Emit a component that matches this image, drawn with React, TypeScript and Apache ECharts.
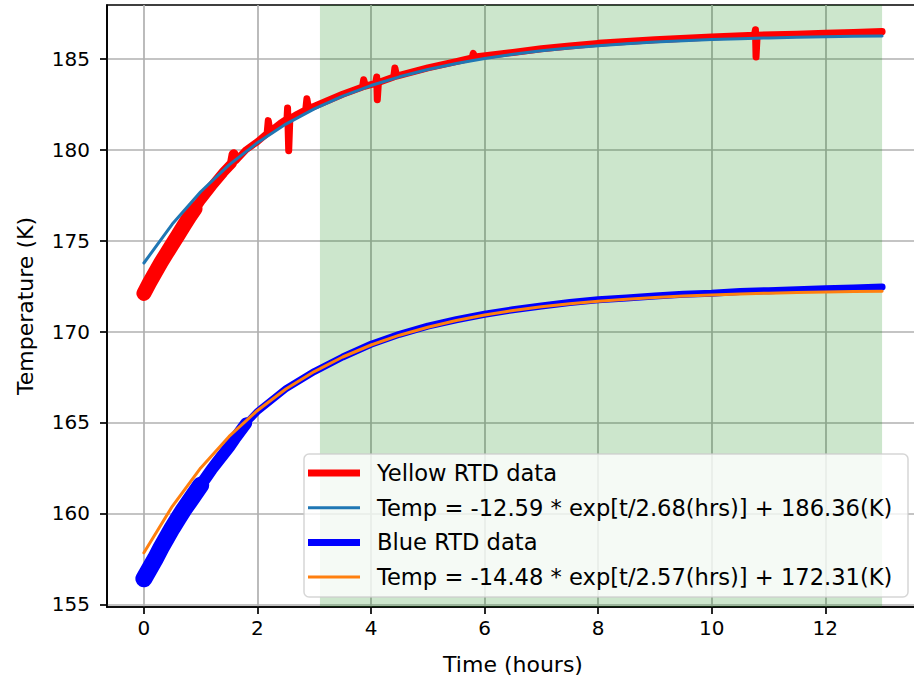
import React, { useEffect, useRef } from "react";
import * as echarts from "echarts";

// ---------- data ----------
const xTicks = [0, 2, 4, 6, 8, 10, 12];
const yTicks = [155, 160, 165, 170, 175, 180, 185];
const shadeSpan = [3.1, 13.0];

const yellowT = [0, 0.1, 0.2, 0.3, 0.4, 0.5, 0.6, 0.7, 0.8, 0.9, 1.0, 1.2, 1.4, 1.55, 1.58, 1.62, 1.8, 2.0, 2.17, 2.19, 2.22, 2.4, 2.52, 2.53, 2.55, 2.57, 2.7, 2.85, 2.87, 2.9, 3.2, 3.5, 3.85, 3.87, 3.9, 4.08, 4.1, 4.11, 4.13, 4.4, 4.42, 4.45, 5.0, 5.5, 5.78, 5.8, 5.83, 6.5, 7.0, 7.5, 8.0, 9.0, 10.0, 10.75, 10.77, 10.78, 10.8, 11.5, 12.0, 12.5, 13.0];
const yellowK = [172.1, 172.7, 173.25, 173.8, 174.3, 174.8, 175.3, 175.8, 176.3, 176.75, 177.2, 178.0, 178.75, 179.25, 179.75, 179.4, 180.0, 180.45, 180.9, 181.6, 181.0, 181.45, 181.7, 182.3, 179.95, 181.7, 181.95, 182.2, 182.8, 182.25, 182.65, 183.05, 183.45, 183.85, 183.5, 183.65, 184.0, 182.75, 183.7, 184.0, 184.5, 184.05, 184.5, 184.85, 185.05, 185.3, 185.1, 185.35, 185.55, 185.7, 185.85, 186.05, 186.2, 186.3, 186.6, 185.1, 186.3, 186.35, 186.4, 186.45, 186.5];

const blueT = [0, 0.1, 0.2, 0.3, 0.4, 0.5, 0.6, 0.7, 0.8, 0.9, 1.0, 1.1, 1.2, 1.3, 1.4, 1.5, 1.6, 1.8, 2.0, 2.5, 3, 3.5, 4, 4.5, 5, 5.5, 6, 6.5, 7, 7.5, 8, 8.5, 9, 9.5, 10, 10.5, 11, 11.5, 12, 12.5, 13];
const blueK = [156.4, 156.95, 157.5, 158.1, 158.65, 159.2, 159.7, 160.2, 160.65, 161.1, 161.55, 162.0, 162.45, 162.85, 163.25, 163.65, 164.1, 164.95, 165.6, 166.85, 167.8, 168.6, 169.3, 169.85, 170.3, 170.65, 170.95, 171.2, 171.4, 171.6, 171.75, 171.85, 171.95, 172.05, 172.1, 172.2, 172.25, 172.3, 172.35, 172.4, 172.45];

const fitT = [0, 0.5, 1, 1.5, 2, 2.5, 3, 3.5, 4, 4.5, 5, 5.5, 6, 6.5, 7, 7.5, 8, 8.5, 9, 9.5, 10, 10.5, 11, 11.5, 12, 12.5, 13];
const yellowFitK = [173.77, 175.91, 177.69, 179.17, 180.39, 181.41, 182.25, 182.95, 183.53, 184.01, 184.41, 184.74, 185.02, 185.25, 185.44, 185.59, 185.72, 185.83, 185.92, 186.0, 186.06, 186.11, 186.15, 186.19, 186.22, 186.24, 186.26];
const blueFitK = [157.83, 160.39, 162.5, 164.23, 165.66, 166.84, 167.8, 168.6, 169.26, 169.8, 170.24, 170.61, 170.91, 171.16, 171.36, 171.53, 171.67, 171.78, 171.87, 171.95, 172.01, 172.07, 172.11, 172.15, 172.17, 172.2, 172.22];

const legendLabels = [
  "Yellow RTD data",
  "Temp = -12.59 * exp[t/2.68(hrs)] + 186.36(K)",
  "Blue RTD data",
  "Temp = -14.48 * exp[t/2.57(hrs)] + 172.31(K)",
];

const xName = "Time (hours)";
const yName = "Temperature (K)";

// ---------- chart ----------
const FONT = "DejaVu Sans";
const pairs = (t: number[], v: number[]) => t.map((x, i) => [x, v[i]]);

export default function App() {
  const ref = useRef<HTMLDivElement>(null);

  useEffect(() => {
    document.body.style.margin = "0";
    if (!ref.current) return;
    const chart = echarts.init(ref.current, null, { renderer: "svg" });

    const yellow = pairs(yellowT, yellowK);
    const blue = pairs(blueT, blueK);
    const colors = ["#ff0000", "#1f77b4", "#0000ff", "#ff7f0e"];
    const widths = [7, 3, 7, 3];

    const lineSeries = (name: string | undefined, data: number[][], color: string, width: number, extra: any = {}) => ({
      type: "line",
      name,
      data,
      showSymbol: false,
      symbol: "none",
      silent: true,
      lineStyle: { color, width, cap: "round", join: "round" },
      ...extra,
    });

    const legendTop = 473;
    const legendStep = 34.7;

    chart.setOption({
      animation: false,
      grid: {
        left: 107,
        top: 5,
        right: 5,
        bottom: 72,
        show: true,
        borderColor: "#000",
        borderWidth: 1.7,
        backgroundColor: "transparent",
      },
      xAxis: {
        type: "value",
        min: -0.65,
        max: 13.65,
        splitNumber: 7,
        name: xName,
        nameLocation: "middle",
        nameGap: 46,
        nameTextStyle: { fontSize: 22, color: "#000", fontFamily: FONT },
        axisLine: { show: true, onZero: false, lineStyle: { color: "#000", width: 1.7 } },
        axisTick: { show: true, length: 7, lineStyle: { color: "#000", width: 1.7 }, customValues: xTicks },
        axisLabel: {
          fontSize: 20,
          color: "#000",
          fontFamily: FONT,
          margin: 11,
          customValues: xTicks,
          formatter: (v: number) => (xTicks.includes(v) ? String(v) : ""),
        },
        splitLine: { show: true, lineStyle: { color: "#b0b0b0", width: 1.7 } },
      },
      yAxis: {
        type: "value",
        min: 154.85,
        max: 187.96,
        splitNumber: 6,
        name: yName,
        nameLocation: "middle",
        nameRotate: 90,
        nameGap: 71,
        nameTextStyle: { fontSize: 22, color: "#000", fontFamily: FONT },
        axisLine: { show: true, onZero: false, lineStyle: { color: "#000", width: 1.7 } },
        axisTick: { show: true, length: 7, lineStyle: { color: "#000", width: 1.7 }, customValues: yTicks },
        axisLabel: {
          fontSize: 20,
          color: "#000",
          fontFamily: FONT,
          margin: 17,
          customValues: yTicks,
          formatter: (v: number) => (yTicks.includes(v) ? String(v) : ""),
        },
        splitLine: { show: true, lineStyle: { color: "#b0b0b0", width: 1.7 } },
      },
      series: [
        lineSeries(undefined, yellow.filter((p) => p[0] <= 0.9), colors[0], 15, {
          markArea: {
            silent: true,
            itemStyle: { color: "rgba(0,128,0,0.2)" },
            data: [[{ xAxis: shadeSpan[0] }, { xAxis: shadeSpan[1] }]],
          },
        }),
        lineSeries(undefined, yellow.filter((p) => p[0] <= 1.6), colors[0], 10),
        lineSeries(legendLabels[0], yellow, colors[0], widths[0]),
        lineSeries(legendLabels[1], pairs(fitT, yellowFitK), colors[1], widths[1]),
        lineSeries(undefined, blue.filter((p) => p[0] <= 1.0), colors[2], 17),
        lineSeries(undefined, blue.filter((p) => p[0] <= 1.8), colors[2], 12),
        lineSeries(legendLabels[2], blue, colors[2], widths[2]),
        lineSeries(legendLabels[3], pairs(fitT, blueFitK), colors[3], widths[3]),
      ],
      graphic: [
        {
          type: "rect",
          z: 100,
          silent: true,
          shape: { x: 304, y: 454, width: 604, height: 143, r: 5 },
          style: { fill: "rgba(255,255,255,0.8)", stroke: "rgba(204,204,204,0.8)", lineWidth: 1.5 },
        },
        ...legendLabels.map((_, i) => ({
          type: "line",
          z: 101,
          silent: true,
          shape: { x1: 308, y1: legendTop + i * legendStep, x2: 360, y2: legendTop + i * legendStep },
          style: { stroke: colors[i], lineWidth: widths[i] },
        })),
        ...legendLabels.map((label, i) => ({
          type: "text",
          z: 101,
          silent: true,
          x: 377,
          y: legendTop + i * legendStep,
          style: {
            text: label,
            fontSize: 22.6,
            fontFamily: FONT,
            fill: "#000",
            align: "left",
            verticalAlign: "middle",
          },
        })),
      ],
    });

    return () => chart.dispose();
  }, []);

  return (
    <div style={{ width: 914, height: 680, overflow: "hidden", position: "relative" }}>
      <div ref={ref} style={{ width: 924, height: 680 }} />
    </div>
  );
}
